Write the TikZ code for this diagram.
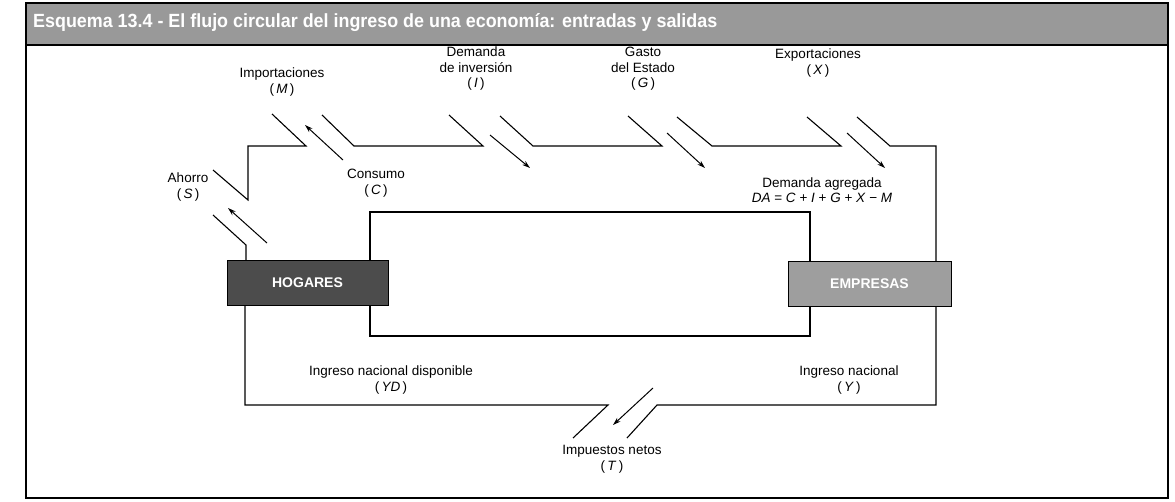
\documentclass[tikz,border=0pt]{standalone}
\usepackage{fontspec}
\setmainfont{Liberation Sans}
\usetikzlibrary{arrows.meta}
\begin{document}
\begin{tikzpicture}[x=1pt,y=-1pt,
  flow/.style={line width=1.1pt, line join=miter},
  arr/.style={line width=1.0pt,-{Stealth[length=8pt,width=5pt]}},
  lbl/.style={font=\fontsize{13.5}{15.5}\selectfont, inner sep=0pt, align=center},
  agent/.style={draw=black, line width=0.8pt, minimum width=161pt, minimum height=45pt,
    inner sep=0pt, text=white, font=\fontsize{14}{16}\selectfont\bfseries}]
\useasboundingbox (0,0) rectangle (1175,501);
\fill[white] (0,0) rectangle (1175,501);
% frame and title bar
\fill[black!40] (26,3) rectangle (1168,45);
\draw[line width=1.4pt] (26,3) rectangle (1168,498);
\draw[line width=1.4pt] (26,45) -- (1168,45);
\node[anchor=west, inner sep=0pt, text=white] (title) at (33,23)
  {\resizebox{684pt}{14pt}{\bfseries Esquema 13.4 - El flujo circular del ingreso de una econom\'ia: entradas y salidas}};
% agents
\node[agent, fill=black!70] (hog) at (307.5,283) {HOGARES};
\node[agent, fill=black!38, minimum width=163pt] (emp) at (869.5,284) {EMPRESAS};
% named points
\coordinate (hL) at (246,245);
\coordinate (hLb) at (245,405);
\coordinate (iL) at (370,212);
\coordinate (iLb) at (370,336);
\coordinate (iR) at (810,212);
\coordinate (iRb) at (810,336);
\coordinate (oR) at (936,146);
\coordinate (oRb) at (936,405);
% outer flow
\draw[flow] (hog.north -| hL) -- (hL) -- (213,215);
\draw[flow] (213,170) -- (248,200) -- (248,146) -- (306,146) -- (272,114);
\draw[flow] (322,115) -- (354,146) -- (483,146) -- (449,115);
\draw[flow] (500,116) -- (533,146) -- (662,146) -- (628,116);
\draw[flow] (677,117) -- (712,146) -- (841,146) -- (807,117);
\draw[flow] (857,117) -- (890,146) -- (oR) -- (emp.north -| oR);
\draw[flow] (emp.south -| oRb) -- (oRb) -- (657,405) -- (627,438);
\draw[flow] (573,438) -- (608,405) -- (hLb) -- (hog.south -| hLb);
% inner flow
\draw[flow] (hog.north -| iL) -- (iL) -- (iR) -- (emp.north -| iR);
\draw[flow] (emp.south -| iRb) -- (iRb) -- (iLb) -- (hog.south -| iLb);
% arrows
\draw[arr] (343,160) -- (305,125);
\draw[arr] (490,135) -- (530,168);
\draw[arr] (667,133) -- (705,168);
\draw[arr] (847,133) -- (885,168);
\draw[arr] (267,243) -- (228,208);
\draw[arr] (653,388) -- (613,425);
% labels
\node[lbl] (lM) at (282,82) {Importaciones\\(\,\textit{M}\,)};
\node[lbl] (lI) at (476,69) {Demanda\\de inversi\'on\\(\,\textit{I}\,)};
\node[lbl] (lG) at (643,69) {Gasto\\del Estado\\(\,\textit{G}\,)};
\node[lbl] (lX) at (818,63) {Exportaciones\\(\,\textit{X}\,)};
\node[lbl] (lC) at (376,183) {Consumo\\(\,\textit{C}\,)};
\node[lbl] (lS) at (188,187) {Ahorro\\(\,\textit{S}\,)};
\node[lbl] (lDA) at (822,190) {Demanda agregada\\\textit{DA} = \textit{C} + \textit{I} + \textit{G} + \textit{X} − \textit{M}};
\node[lbl] (lYD) at (391,380) {Ingreso nacional disponible\\(\,\textit{YD}\,)};
\node[lbl] (lY) at (849,380) {Ingreso nacional\\(\,\textit{Y}\,)};
\node[lbl] (lT) at (612,459) {Impuestos netos\\(\,\textit{T}\,)};
\end{tikzpicture}
\end{document}
